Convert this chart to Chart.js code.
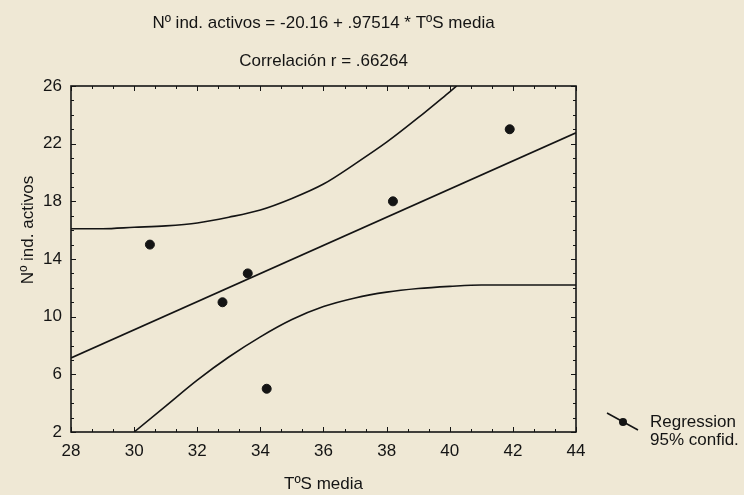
<!DOCTYPE html>
<html>
<head>
<meta charset="utf-8">
<script src="https://cdn.jsdelivr.net/npm/chart.js@4.4.1/dist/chart.umd.min.js"></script>
<style>
  html, body { margin: 0; padding: 0; background: #efe8d5; }
  #wrap { width: 744px; height: 495px; }
</style>
</head>
<body>
<div id="wrap"><canvas id="regChart"></canvas></div>
<script>
'use strict';

// puntos observados
var tempMedia  = [30.5, 32.8, 33.6, 34.2, 38.2, 41.9];
var indActivos = [15, 11, 13, 5, 18, 23];

// recta de regresion (extremos del eje)
var regX = [28, 44];
var regY = [7.14, 22.75];

// bandas 95%
var upperX = [28, 29, 30, 31, 32, 33, 34, 35, 36, 37, 38, 39, 40, 40.22];
var upperY = [16.1, 16.1, 16.2, 16.3, 16.5, 16.9, 17.4, 18.2, 19.2, 20.6, 22.1, 23.8, 25.6, 26];
var lowerX = [30, 31, 32, 33, 34, 35, 36, 37, 38, 39, 40, 41, 42, 43, 44];
var lowerY = [2.0, 3.8, 5.6, 7.2, 8.6, 9.8, 10.7, 11.3, 11.7, 11.95, 12.1, 12.2, 12.2, 12.2, 12.2];

var titleLines = ['Nº ind. activos = -20.16 + .97514 * TºS media', 'Correlación r = .66264'];
var yTitle = 'Nº ind. activos';
var legendLabels = ['Regression', '95% confid.'];

var INK = '#141414';
var FONT = '"Liberation Sans", Arial, sans-serif';

function pairs(xs, ys) {
  return xs.map(function(v, i) { return {x: v, y: ys[i]}; });
}

/* marco con marcas hacia dentro + titulo Y + leyenda */
var frameTicks = {
  id: 'frameTicks',
  afterDraw: function(chart) {
    var ctx = chart.ctx, a = chart.chartArea;
    var x = chart.scales.x, y = chart.scales.y;
    ctx.save();
    ctx.strokeStyle = INK;
    ctx.lineWidth = 1;
    ctx.beginPath();
    var v, px, len;
    for (v = 28; v <= 44.001; v += 2 / 3) {
      px = Math.round(x.getPixelForValue(v)) + 0.5;
      len = (Math.abs(v - Math.round(v)) < 0.01 && Math.round(v) % 2 === 0) ? 5 : 3;
      ctx.moveTo(px, a.bottom); ctx.lineTo(px, a.bottom - len);
      ctx.moveTo(px, a.top); ctx.lineTo(px, a.top + len);
    }
    for (v = 2; v <= 26; v += 1) {
      px = Math.round(y.getPixelForValue(v)) + 0.5;
      len = ((v - 2) % 4 === 0) ? 5 : 3;
      ctx.moveTo(a.left, px); ctx.lineTo(a.left + len, px);
      ctx.moveTo(a.right, px); ctx.lineTo(a.right - len, px);
    }
    ctx.stroke();
    ctx.lineWidth = 1.6;
    ctx.strokeRect(a.left, a.top, a.right - a.left, a.bottom - a.top);

    ctx.fillStyle = INK;
    ctx.font = '17px ' + FONT;
    ctx.textBaseline = 'middle';

    // titulo eje Y (algo por encima del centro, como en el original)
    ctx.save();
    ctx.translate(28, a.top + 144);
    ctx.rotate(-Math.PI / 2);
    ctx.textAlign = 'center';
    ctx.fillText(yTitle, 0, 0);
    ctx.restore();

    // leyenda
    var lx = a.right + 31, ly = a.bottom - 10;
    ctx.lineWidth = 1.6;
    ctx.beginPath();
    ctx.moveTo(lx, ly - 9); ctx.lineTo(lx + 31, ly + 8);
    ctx.stroke();
    ctx.beginPath();
    ctx.arc(lx + 16, ly, 4, 0, Math.PI * 2);
    ctx.fill();
    ctx.textAlign = 'left';
    ctx.fillText(legendLabels[0], lx + 43, ly);
    ctx.fillText(legendLabels[1], lx + 43, ly + 18);
    ctx.restore();
  }
};

var ctx = document.getElementById('regChart');
var regChart = new Chart(ctx, {
  type: 'scatter',
  data: {
    datasets: [
      {
        label: 'observados',
        data: pairs(tempMedia, indActivos),
        backgroundColor: INK,
        borderColor: INK,
        pointRadius: 4.5,
        pointHoverRadius: 4.5
      },
      {
        label: legendLabels[0],
        data: pairs(regX, regY),
        showLine: true,
        borderColor: INK,
        borderWidth: 1.6,
        pointRadius: 0
      },
      {
        label: legendLabels[1],
        data: pairs(upperX, upperY),
        showLine: true,
        borderColor: INK,
        borderWidth: 1.6,
        pointRadius: 0,
        cubicInterpolationMode: 'monotone'
      },
      {
        label: legendLabels[1] + ' inf',
        data: pairs(lowerX, lowerY),
        showLine: true,
        borderColor: INK,
        borderWidth: 1.6,
        pointRadius: 0,
        cubicInterpolationMode: 'monotone'
      }
    ]
  },
  options: {
    responsive: true,
    maintainAspectRatio: false,
    animation: false,
    layout: { padding: { top: 0, right: 168, bottom: 0, left: 0 } },
    plugins: {
      legend: { display: false },
      tooltip: { enabled: false },
      title: {
        display: true,
        text: titleLines,
        fullSize: false,
        color: INK,
        font: { family: FONT, size: 17, weight: 'normal', lineHeight: 2.2 },
        padding: { top: 5, bottom: 6.2 }
      }
    },
    scales: {
      x: {
        type: 'linear',
        min: 28,
        max: 44,
        afterFit: function(s) { s.height = 63; },
        grid: { display: false, drawTicks: false },
        border: { display: false },
        ticks: {
          stepSize: 2,
          padding: 9,
          color: INK,
          font: { family: FONT, size: 17 }
        },
        title: {
          display: true,
          text: 'TºS media',
          color: INK,
          padding: { top: 0, bottom: 0 },
          font: { family: FONT, size: 17 }
        }
      },
      y: {
        type: 'linear',
        min: 2,
        max: 26,
        afterFit: function(s) { s.width = 71; },
        grid: { display: false, drawTicks: false },
        border: { display: false },
        ticks: {
          stepSize: 4,
          padding: 9,
          color: INK,
          font: { family: FONT, size: 17 }
        }
      }
    }
  },
  plugins: [frameTicks]
});
</script>
</body>
</html>
